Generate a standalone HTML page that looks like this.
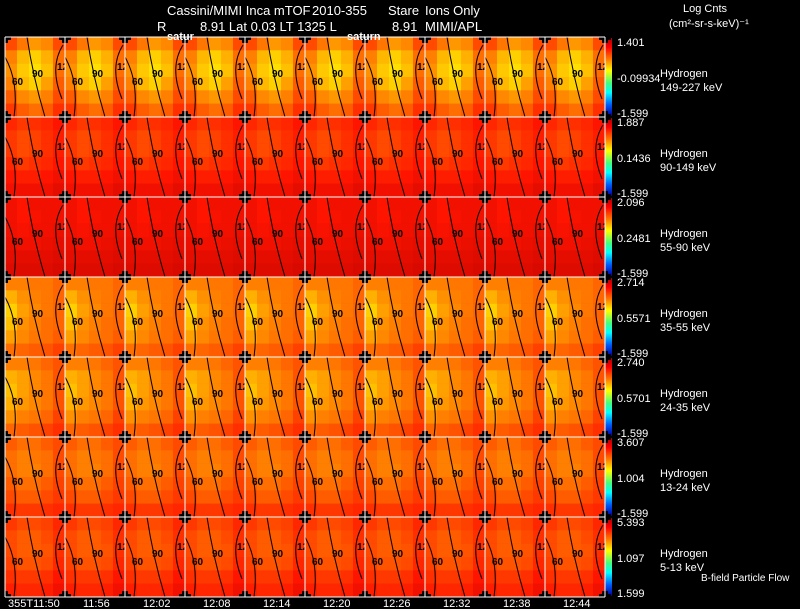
<!DOCTYPE html>
<html><head><meta charset="utf-8"><style>
html,body{margin:0;padding:0;background:#000;width:800px;height:609px;overflow:hidden}
svg{display:block}
text{font-family:"Liberation Sans",sans-serif;fill:#fff}
</style></head><body>
<svg id="chart" width="800" height="609" viewBox="0 0 800 609" xmlns="http://www.w3.org/2000/svg">
<defs>
<linearGradient id="cbar" x1="0" y1="0" x2="0" y2="1">
<stop offset="0" stop-color="#b00000"/><stop offset="0.12" stop-color="#ff0000"/><stop offset="0.28" stop-color="#ff8000"/><stop offset="0.42" stop-color="#ffff00"/><stop offset="0.58" stop-color="#40ff80"/><stop offset="0.7" stop-color="#00ffff"/><stop offset="0.85" stop-color="#0060ff"/><stop offset="1" stop-color="#0000a0"/>
</linearGradient>
</defs>
<g font-size="13">
<text x="167" y="15">Cassini/MIMI Inca mTOF</text><text x="312" y="15">2010-355</text><text x="388" y="15">Stare</text><text x="425" y="15">Ions Only</text>
</g>
<g font-size="13">
<text x="157" y="31">R</text><text x="200" y="31">8.91 Lat 0.03 LT 1325 L</text><text x="392" y="31">8.91</text><text x="425" y="31">MIMI/APL</text>
</g>
<text x="683" y="12" font-size="11">Log Cnts</text>
<text x="669" y="27" font-size="11">(cm²-sr-s-keV)⁻¹</text>
<g id="panels"></g>
<g id="overlay"></g>
<text x="701" y="581" font-size="10">B-field Particle Flow</text>
</svg>
<script>
const times = ["355T11:50","11:56","12:02","12:08","12:14","12:20","12:26","12:32","12:38","12:44"];
const energies = ["149-227 keV","90-149 keV","55-90 keV","35-55 keV","24-35 keV","13-24 keV","5-13 keV"];
const scaleMax = ["1.401","1.887","2.096","2.714","2.740","3.607","5.393"];
const scaleMid = ["-0.09934","0.1436","0.2481","0.5571","0.5701","1.004","1.097"];
const scaleMin = ["-1.599","-1.599","-1.599","-1.599","-1.599","-1.599","1.599"];
// intensity patterns (0=blue .. 1=dark red), 5 cols x 6 rows per energy band
const pat0 = [.82,.77,.73,.75,.82, .76,.69,.66,.7,.78, .74,.67,.64,.68,.78, .76,.69,.66,.72,.8, .8,.75,.73,.76,.82, .84,.8,.78,.8,.85];
const pat1 = [.86,.84,.85,.86,.88, .84,.82,.83,.85,.87, .84,.82,.83,.85,.87, .86,.84,.85,.86,.88, .88,.87,.87,.88,.9, .9,.9,.9,.9,.92];
const pat2 = [.9,.88,.9,.9,.9, .9,.88,.89,.9,.9, .9,.89,.9,.9,.91, .91,.9,.9,.91,.92, .92,.92,.92,.92,.93, .93,.93,.93,.93,.94];
const pat3 = [.76,.76,.77,.77,.79, .7,.74,.76,.77,.79, .66,.72,.75,.77,.79, .68,.74,.76,.78,.79, .72,.75,.77,.78,.8, .78,.79,.8,.81,.83];
const pat4 = [.76,.76,.77,.79,.81, .7,.72,.75,.77,.81, .68,.72,.75,.77,.81, .7,.73,.75,.77,.81, .74,.76,.77,.79,.83, .79,.8,.81,.83,.85];
const pat5 = [.8,.78,.78,.8,.82, .78,.76,.77,.78,.82, .78,.76,.76,.78,.82, .8,.78,.78,.8,.83, .82,.8,.8,.82,.84, .85,.84,.84,.85,.86];
const pat6 = [.84,.82,.82,.83,.86, .82,.8,.8,.82,.85, .82,.8,.8,.81,.85, .83,.81,.81,.82,.86, .85,.84,.84,.85,.88, .87,.86,.86,.87,.9];
const patterns = [pat0,pat1,pat2,pat3,pat4,pat5,pat6];

const X0=5, Y0=37, PW=60, PH=80, NS="http://www.w3.org/2000/svg";
const xScale = c => X0 + c*PW;
const yScale = r => Y0 + r*PH;
const stops=[[0,[0,0,160]],[.2,[0,96,255]],[.35,[0,255,255]],[.5,[64,255,128]],[.62,[255,240,0]],[.76,[255,128,0]],[.88,[255,20,0]],[1,[176,0,0]]];
function cmap(v){for(let i=1;i<stops.length;i++){if(v<=stops[i][0]){const a=stops[i-1],b=stops[i],t=(v-a[0])/(b[0]-a[0]);return 'rgb('+a[1].map((x,k)=>Math.round(x+(b[1][k]-x)*t)).join(',')+')';}}return 'rgb(176,0,0)';}
function mk(tag,attrs,parent){const e=document.createElementNS(NS,tag);for(const k in attrs)e.setAttribute(k,attrs[k]);parent.appendChild(e);return e;}
const g=document.getElementById('panels'), ov=document.getElementById('overlay');
const cw=PW/5, ch=PH/6;
for(let r=0;r<energies.length;r++){
  for(let c=0;c<times.length;c++){
    const px=xScale(c), py=yScale(r);
    const pg=mk('g',{},g);
    
    
    const pat=patterns[r];
    for(let j=0;j<6;j++)for(let i=0;i<5;i++){
      const cell=mk('rect',{x:px+i*cw,y:py+j*ch,width:cw+0.3,height:ch+0.3,fill:cmap(pat[j*5+i])},pg);
      
      
    }
    const path=(d)=>mk('path',{d:d,fill:'none',stroke:'#000','stroke-width':1},pg);
    path(`M${px} ${py+20} Q${px+14} ${py+45} ${px+9} ${py+80}`);
    path(`M${px+22} ${py} Q${px+28} ${py+40} ${px+40} ${py+80}`);
    path(`M${px+58} ${py+8} Q${px+44} ${py+30} ${px+57} ${py+62}`);
    mk('text',{x:px+7,y:py+48,'font-size':10,'font-weight':'bold',style:'fill:#000'},pg).textContent='60';
    mk('text',{x:px+27,y:py+40,'font-size':10,'font-weight':'bold',style:'fill:#000'},pg).textContent='90';
    mk('text',{x:px+52,y:py+33,'font-size':10,'font-weight':'bold',style:'fill:#000'},pg).textContent='12';
  }
  const cb=mk('rect',{x:605,y:yScale(r)+1,width:7,height:PH-2,fill:'url(#cbar)'},g);
  
  
  const t1=mk('text',{x:617,y:yScale(r)+9,'font-size':11},g); t1.textContent=scaleMax[r];
   
  const t2=mk('text',{x:617,y:yScale(r)+45,'font-size':11},g); t2.textContent=scaleMid[r];
   
  const t3=mk('text',{x:617,y:yScale(r)+80,'font-size':11},g); t3.textContent=scaleMin[r];
   
  const s1=mk('text',{x:660,y:yScale(r)+40,'font-size':11},g); s1.textContent='Hydrogen';
   
  const s2=mk('text',{x:660,y:yScale(r)+54,'font-size':11},g); s2.textContent=energies[r];
   
}
for(let r=0;r<=energies.length;r++){
  for(let c=0;c<=times.length;c++){
    const x=xScale(c), y=yScale(r);
    mk('rect',{x:x-3,y:y-6,width:6,height:12,fill:'#000'},ov);
    mk('rect',{x:x-6,y:y-3,width:12,height:6,fill:'#000'},ov);
  }
}
for(let r=0;r<=energies.length;r++){
  const l=mk('line',{x1:X0,y1:yScale(r),x2:xScale(times.length),y2:yScale(r),stroke:'#fff','stroke-width':1},ov);
   
}
for(let c=0;c<=times.length;c++){
  const l=mk('line',{x1:xScale(c),y1:Y0,x2:xScale(c),y2:yScale(energies.length),stroke:'#fff','stroke-width':1},ov);
   
}
times.forEach((t,c)=>{
  const e=mk('text',{x:c===0?8:xScale(c)+18,y:607,'font-size':11},ov); e.textContent=t;
   
});
const a=mk('text',{x:167,y:40,'font-size':11,'font-weight':'bold'},ov); a.textContent='satur';
 
const b=mk('text',{x:347,y:40,'font-size':11,'font-weight':'bold'},ov); b.textContent='saturn';
 
</script>
</body></html>
